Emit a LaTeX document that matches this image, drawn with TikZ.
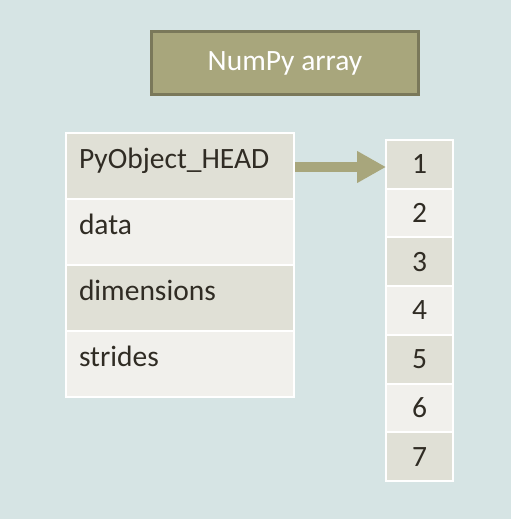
\documentclass[tikz,border=0pt]{standalone}
\usepackage{fontspec}
\setmainfont{Carlito}
\usetikzlibrary{arrows.meta,calc}
\definecolor{bgc}{HTML}{D6E4E4}
\definecolor{olive}{HTML}{A8A67C}
\definecolor{olivedark}{HTML}{7A785A}
\definecolor{rowdark}{HTML}{E0E0D6}
\definecolor{rowlight}{HTML}{F1F0EC}
\definecolor{txt}{HTML}{302C24}
\begin{document}
\begin{tikzpicture}[x=1pt,y=1pt,
  title/.style={draw=olivedark,line width=3pt,fill=olive,text=white,minimum width=267pt,minimum height=63pt,inner sep=0pt,font=\fontsize{29.5}{30}\selectfont},
  field/.style={draw=white,line width=2pt,outer sep=0pt,text=txt,inner ysep=0pt,inner xsep=13pt,text width=202pt,align=left,text height=35pt,text depth=31pt,font=\fontsize{29.5}{30}\selectfont},
  cell/.style={draw=white,line width=2pt,outer sep=0pt,text=txt,inner sep=0pt,minimum width=67pt,minimum height=48.7pt,font=\fontsize{29.5}{30}\selectfont},
  dk/.style={fill=rowdark},
  lt/.style={fill=rowlight}]
\fill[bgc] (0,0) rectangle (511,-519);
\useasboundingbox (0,0) rectangle (511,-519);
\node[title] (t) at (285,-63) {NumPy array};
\node[field,dk,anchor=north west] (f1) at (66,-133) {PyObject\_HEAD};
\node[field,lt,anchor=north] (f2) at (f1.south) {data};
\node[field,dk,anchor=north] (f3) at (f2.south) {dimensions};
\node[field,lt,anchor=north] (f4) at (f3.south) {strides};
\node[cell,dk,anchor=north west] (c1) at (386,-140) {1};
\node[cell,lt,anchor=north] (c2) at (c1.south) {2};
\node[cell,dk,anchor=north] (c3) at (c2.south) {3};
\node[cell,lt,anchor=north] (c4) at (c3.south) {4};
\node[cell,dk,anchor=north] (c5) at (c4.south) {5};
\node[cell,lt,anchor=north] (c6) at (c5.south) {6};
\node[cell,dk,anchor=north] (c7) at (c6.south) {7};
\coordinate (as) at ($(f1.east)+(1,-1)$);
\coordinate (ae) at (as -| c1.west);
\draw[olive,line width=10pt,-{Triangle[length=29pt,width=30pt]}] (as) -- (ae);
\end{tikzpicture}
\end{document}
